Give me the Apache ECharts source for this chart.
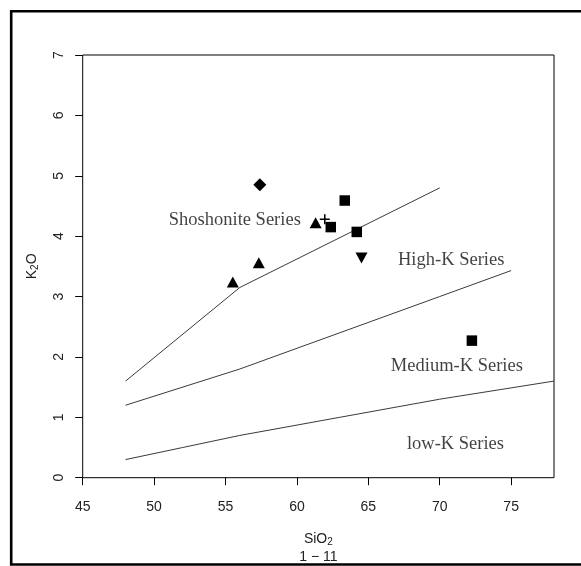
<!DOCTYPE html>
<html>
<head>
<meta charset="utf-8">
<script src="https://cdn.jsdelivr.net/npm/echarts@6/dist/echarts.min.js"></script>
<style>
html,body{margin:0;padding:0;background:#fff;}
#c{width:581px;height:566px;}
</style>
</head>
<body>
<div id="c"></div>
<script>
// axis ticks
const xTicks = [45, 50, 55, 60, 65, 70, 75];
const yTicks = [0, 1, 2, 3, 4, 5, 6, 7];

// samples (SiO2, K2O) by symbol
const squareSiO2 = [63.35, 62.37, 64.19, 72.25];
const squareK2O  = [4.59, 4.15, 4.07, 2.27];
const triSiO2 = [61.31, 57.33, 55.51];
const triK2O  = [4.22, 3.56, 3.24];
const invTriSiO2 = [64.52];
const invTriK2O  = [3.64];
const diamondSiO2 = [57.40];
const diamondK2O  = [4.85];
const plusSiO2 = [61.95];
const plusK2O  = [4.28];

// boundary lines
const lowKx = [48, 52, 56, 63, 70, 78];
const lowKy = [0.3, 0.5, 0.7, 1.0, 1.3, 1.6];
const medKx = [48, 56, 63, 70, 75];
const medKy = [1.2, 1.8, 2.4, 3.0, 3.43];
const highKx = [48, 56, 70];
const highKy = [1.6, 3.15, 4.8];

// field labels
const fieldNames = ['Shoshonite Series', 'High-K Series', 'Medium-K Series', 'low-K Series'];
const fieldSiO2 = [55.65, 70.8, 71.2, 71.1];
const fieldK2O  = [4.27, 3.60, 1.84, 0.56];

const zip = (xs, ys) => xs.map((x, i) => [x, ys[i]]);
const sans = "'Liberation Sans', Arial, sans-serif";
const serif = "'Liberation Serif', 'Times New Roman', serif";

const lineSeries = (xs, ys) => ({
  type: 'line', data: zip(xs, ys), showSymbol: false, silent: true,
  lineStyle: { color: '#3a3a3a', width: 1 }, z: 2
});
const ptSeries = (xs, ys, symbol, size, rot) => ({
  type: 'scatter', data: zip(xs, ys), symbol: symbol, symbolSize: size,
  symbolRotate: rot || 0, itemStyle: { color: '#000', opacity: 1 }, z: 5, silent: true
});

const chart = echarts.init(document.getElementById('c'), null, { renderer: 'canvas' });
chart.setOption({
  backgroundColor: '#fff',
  animation: false,
  grid: { left: 82.7, right: 27, top: 55, bottom: 88.3, show: true, borderColor: '#000', borderWidth: 1, backgroundColor: 'transparent' },
  xAxis: {
    type: 'value', min: 45, max: 78, interval: 5,
    splitLine: { show: false },
    axisLine: { show: false },
    axisTick: { show: true, length: 7.5, customValues: xTicks, lineStyle: { color: '#000' } },
    axisLabel: { customValues: xTicks, margin: 22, fontFamily: sans, fontSize: 14, color: '#222' },
    name: '{a|SiO}{b|2}', nameLocation: 'middle', nameGap: 52,
    nameTextStyle: { rich: { a: { fontFamily: sans, fontSize: 14, color: '#222' }, b: { fontFamily: sans, fontSize: 10, color: '#222', verticalAlign: 'bottom', padding: [8, 0, 0, 0] } } }
  },
  yAxis: {
    type: 'value', min: 0, max: 7, interval: 1,
    splitLine: { show: false },
    axisLine: { show: false },
    axisTick: { show: true, length: 7.5, customValues: yTicks, lineStyle: { color: '#000' } },
    axisLabel: { customValues: yTicks, rotate: 90, margin: 17, fontFamily: sans, fontSize: 14, color: '#222' },
    name: '{a|K}{b|2}{a|O}', nameLocation: 'middle', nameGap: 42, nameRotate: 90,
    nameTextStyle: { rich: { a: { fontFamily: sans, fontSize: 14, color: '#222' }, b: { fontFamily: sans, fontSize: 10, color: '#222', verticalAlign: 'bottom', padding: [8, 0, 0, 0] } } }
  },
  graphic: [
    { type: 'rect', shape: { x: 11.2, y: 11.2, width: 590, height: 553.3 }, style: { fill: 'none', stroke: '#000', lineWidth: 2.6 }, silent: true },
    { type: 'text', x: 318.4, y: 557, style: { text: '1 \u2212 11', font: "14px 'Liberation Sans', Arial, sans-serif", fill: '#222', textAlign: 'center', textVerticalAlign: 'middle' }, silent: true }
  ],
  series: [
    lineSeries(lowKx, lowKy),
    lineSeries(medKx, medKy),
    lineSeries(highKx, highKy),
    ptSeries(squareSiO2, squareK2O, 'rect', 10.5),
    ptSeries(triSiO2, triK2O, 'triangle', [12, 11]),
    ptSeries(invTriSiO2, invTriK2O, 'triangle', [12, 11], 180),
    ptSeries(diamondSiO2, diamondK2O, 'diamond', [13, 13]),
    ptSeries(plusSiO2, plusK2O, 'path://M0,4.2H10V5.8H0Z M4.2,0H5.8V10H4.2Z', 10),
    {
      type: 'scatter', silent: true, symbolSize: 0, z: 4,
      data: fieldNames.map((n, i) => [fieldSiO2[i], fieldK2O[i], n]),
      label: { show: true, position: 'inside', formatter: p => p.value[2], fontFamily: serif, fontSize: 18.5, color: '#111' }
    }
  ]
});
</script>
</body>
</html>
